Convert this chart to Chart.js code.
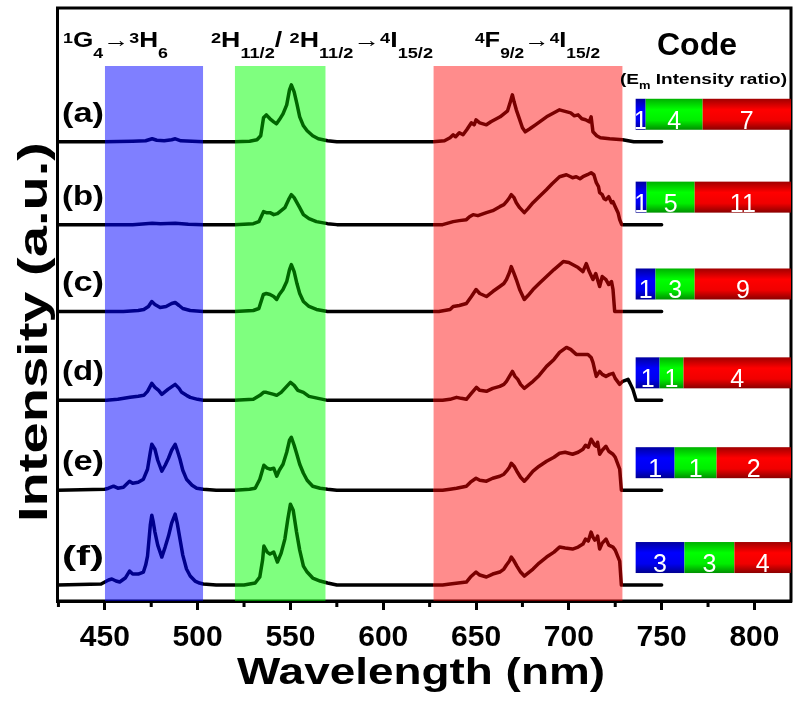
<!DOCTYPE html>
<html>
<head>
<meta charset="utf-8">
<title>Emission spectra</title>
<script src="https://cdn.jsdelivr.net/npm/chart.js@4.4.1/dist/chart.umd.min.js"></script>
<style>
  html, body { margin: 0; padding: 0; background: #fff; }
</style>
</head>
<body>
<canvas id="chart" width="800" height="704"></canvas>
<script>
// sample names and vertical offsets of each trace (a.u.)
const sampleLabels = ['(a)', '(b)', '(c)', '(d)', '(e)', '(f)'];
const baseOffsets = [460, 377, 290, 201, 111, 16];

// spectra as [wavelength nm, intensity above own baseline]
const specA = [[424.5,0],[450,0],[465,0.5],[472,1],[475.5,3],[478,1.5],[482,1],[486,2],[488,3],[491,1],[497,0.5],[503,0],
  [520,0],[528,0.5],[532,2],[534,6],[535.5,24],[537,27],[539,23],[541,20],[542.5,18],[544,22],[546,28],[548,37],[549.5,52],[550.5,57],[552,50],[553.5,38],[555,25],[557,16],[559,11],[562,6],[565,3],[570,1],[575,0],
  [627,0],[633,1],[636,4],[637.7,7],[639,5],[641,9],[643,7],[645,12],[647.5,19],[649,17],[650,22],[652,19],[655.6,17],[658,20],[661,23],[663,25],[665,28],[667,31],[668.5,40],[669.6,47],[670.5,40],[671.7,32],[673,25],[675,14],[676.5,10],[679,13],[682,17],[685,21],[688,25],[690,27],[693,30],[695,32],[697,31],[699,30],[701,29],[703,26],[705,27],[707,23],[709,22],[711,20],[712,25],[713,10],[715,6],[717,4],[722,3],[729,2],[735,0],[750,0]];
const specB = [[424.5,0],[465,0],[475.5,1.5],[480,0.8],[488,1.5],[495,0.5],[503,0],[520,0],[530,1],[533,3],[535.5,13],[537,12],[539,12],[541,10],[543,11],[545,14],[547,17],[549,25],[550.5,30],[552,27],[553.5,22],[555,17],[557,10],[560,6],[564,3],[570,1],[575,0],
  [632,0],[637.7,3],[641,4],[644.8,5],[646.5,8],[648.4,10],[651,9],[655.6,12],[659,14],[662.8,18],[665,20],[666.4,23],[668,27],[669,30],[670.5,27],[671.7,22],[673.5,17],[676,12],[678,16],[680.7,22],[684,28],[687.9,35],[691,41],[695,48],[698.7,50],[701,48],[702,47],[704,48],[706,46],[707.6,48],[710,50],[712,52],[713.5,50],[714.8,42],[716,38],[716.6,32],[718,30],[719,26],[720,25],[721.5,28],[723,22],[723.8,23],[725,18],[726.5,12],[727.4,5],[728.5,0],[750,0]];
const specC = [[424.5,0],[460,0],[468,1],[471,2],[473.5,5],[475.3,10],[477,7],[479.8,4],[483,5],[486,8],[487.9,9],[490,6],[492,3],[496,1],[503,0],[520,0],[530,1],[533,3],[535.4,17],[537,18],[539,17],[541,15],[542.6,12],[544,17],[546,22],[548,30],[549.5,42],[550.5,47],[552,40],[553.5,28],[555,18],[557,10],[560,5],[564,2],[570,0],
  [630,0],[636,2],[637.7,5],[641,6],[644.8,8],[647.5,15],[650,22],[652,18],[655.6,15],[659,20],[662.8,25],[665,28],[666.4,32],[668,39],[669,45],[670.5,38],[671.7,32],[673.5,22],[676,12],[678,16],[680.7,22],[684,28],[688,35],[692,42],[697,50],[700,49],[702,47],[705,44],[707.6,40],[709.4,48],[711,40],[713,32],[714.5,38],[716.6,25],[718,35],[720,32],[721.5,27],[723,30],[723.8,22],[724.7,0],[750,0]];
const specD = [[424.5,0],[451,0],[457,1],[463.6,3],[468,4],[471,5],[473,9],[475.3,17],[477,13],[479,10],[480.7,6],[484,11],[487.9,16],[490,12],[491.4,8],[494,5],[496,3],[500,1],[503,0],[520,0],[530,1],[533.6,5],[535.5,8],[537,8],[539,7],[541,6],[542.6,5],[545,8],[548,14],[550,18],[552,15],[554,10],[557,8],[560,4],[565,2],[570,0],
  [632,0],[636,1],[639.5,3],[642,2],[644.8,1],[647,6],[650.2,13],[652,10],[655.6,9],[659,12],[662.8,14],[665,16],[666.4,19],[668,24],[669.6,29],[671,24],[672.5,21],[674,16],[676,12],[678,15],[680.7,19],[684,25],[688,34],[692,41],[695,48],[698.7,53],[701,51],[704,46],[707,46],[710.3,46],[712,43],[713,38],[714,30],[714.8,24],[716.6,29],[718,26],[720,24],[722,26],[723.8,27],[725,22],[727.4,16],[729,19],[731.9,21],[733,17],[734.5,11],[736.3,0],[750,0]];
const specE = [[424.5,0],[450,1],[452,2],[454.7,4],[457,2],[460,3],[463.3,9],[465,7],[468,8],[470.8,11],[473,21],[474.5,38],[475.3,46],[477,41],[478.5,30],[480.7,19],[482.5,25],[484.3,32],[486,40],[487.9,46],[489,40],[490.5,31],[492,20],[494,11],[497,5],[499.5,2],[503,1],[510,0],[520,0],[528,1],[531,2],[533.5,11],[535.7,25],[537.5,22],[539,21],[541,22],[542.6,14],[544,20],[546,26],[548,38],[549.5,50],[550.5,53],[552,45],[553.3,37],[555,26],[557,17],[559,10],[562,4],[566,2],[570,1],[575,0],
  [632,0],[636,1],[639.5,2],[644.8,4],[647,8],[650,12],[652,10],[655.6,9],[659,12],[662.8,14],[665,16],[666.4,19],[668,23],[669,27],[670.5,24],[672,19],[674,13],[676,9],[678,13],[680.7,19],[684,24],[688,29],[692,33],[695,37],[698,38],[702,36],[705,38],[707.6,41],[709,45],[710.5,43],[712,51],[713,48],[714,45],[714.8,44],[715.5,48],[716.6,36],[718,40],[720,44],[721.5,39],[723.8,36],[725,33],[727.4,21],[728.3,0],[750,0]];
const specF = [[424.5,0],[448,1],[450,3],[452,5],[453.8,6],[456,4],[458,3],[461,7],[463.3,14],[465,11],[468,11],[470.8,13],[472,20],[473,29],[474.5,60],[475.3,70],[476,64],[477,53],[478.5,40],[480.7,28],[482.5,38],[484.3,49],[486,62],[487.9,71],[489,62],[490.5,46],[492,30],[494,16],[496,9],[498.6,4],[501,2],[503,1],[510,0],[525,0],[531,2],[533.5,8],[535,25],[535.7,39],[537.5,33],[539,31],[541,33],[543,23],[545,32],[547,46],[548.5,65],[550,81],[551.5,75],[553.3,53],[555,35],[557,19],[559,13],[562,7],[566,4],[570,2],[575,0],
  [632,0],[636,1],[644.8,3],[647,8],[650,13],[652,10],[655.6,8],[659,11],[662.8,13],[665,16],[666.4,20],[668,24],[669,28],[670.5,24],[672,19],[674,13],[676,9],[678,12],[680.7,16],[684,22],[688,28],[692,33],[695,38],[698,37],[702,36],[705,38],[707.6,41],[709,46],[710.5,44],[712,53],[713,48],[714,45],[714.8,46],[715.5,49],[716.6,36],[718,42],[720,46],[721.5,40],[723.8,38],[725,35],[727.4,24],[728.3,0],[750,0]];
const spectra = [specA, specB, specC, specD, specE, specF];

// emission bands (nm) and their upper edge (a.u.)
const bandBlue = [450, 503];
const bandGreen = [520, 569];
const bandRed = [627, 729];
const bandTop = 536;

// code bars: blue:green:red ratios and where each colour ends (nm)
const codeRatios = [[1, 4, 7], [1, 5, 11], [1, 3, 9], [1, 1, 4], [1, 1, 2], [3, 3, 4]];
const codeSplits = [[741.4, 772.1], [741.9, 767.8], [746.7, 767.8], [748.9, 761.8], [757, 779.6], [762.3, 789.2]];
const codeStart = 736;

const majorTicks = [450, 500, 550, 600, 650, 700, 750, 800];
const minorTicks = [425, 475, 525, 575, 625, 675, 725, 775];

const X_MIN = 424.5, X_MAX = 819.7;
const FONT = '"Liberation Sans", Arial, Helvetica, sans-serif';

// trace colour changes inside each band: built as a hard-stop gradient along x
let traceGradient = null;
let traceKey = '';
function traceColour(c) {
    const chart = c.chart;
    const a = chart.chartArea;
    const xs = chart.scales.x;
    if (!a || !xs) return '#000';
    const key = a.left + ':' + a.right;
    if (traceGradient && key === traceKey) return traceGradient;
    const g = chart.ctx.createLinearGradient(a.left, 0, a.right, 0);
    const f = v => (v - X_MIN) / (X_MAX - X_MIN);
    g.addColorStop(0, '#000');
    [[bandBlue, '#00008c'], [bandGreen, '#006600'], [bandRed, '#7a0000']].forEach(([b, col]) => {
        g.addColorStop(f(b[0]), '#000');
        g.addColorStop(f(b[0]), col);
        g.addColorStop(f(b[1]), col);
        g.addColorStop(f(b[1]), '#000');
    });
    g.addColorStop(1, '#000');
    traceGradient = g;
    traceKey = key;
    return g;
}

// text with super/subscripts, squeezed/stretched to a given width
function drawRich(ctx, parts, x, y, size, width, opt) {
    opt = opt || {};
    const small = size * (opt.small || 0.68);
    const weight = opt.weight || 'bold';
    const fontFor = k => `${weight} ${k === 0 ? size : small}px ${FONT}`;
    let total = 0;
    const widths = parts.map(([t, k]) => {
        ctx.font = fontFor(k);
        const w = ctx.measureText(t).width;
        total += w;
        return w;
    });
    const sx = width ? width / total : 1;
    ctx.save();
    ctx.translate(x, y);
    ctx.scale(sx, 1);
    ctx.textAlign = 'left';
    ctx.textBaseline = 'alphabetic';
    ctx.fillStyle = opt.color || '#000';
    let cx = 0;
    parts.forEach(([t, k], i) => {
        ctx.font = fontFor(k);
        const dy = k > 0 ? -size * (opt.up || 0.2) : (k < 0 ? size * (opt.down || 0.5) : 0);
        ctx.fillText(t, cx, dy);
        cx += widths[i];
    });
    ctx.restore();
}

const framePlugin = {
    id: 'frame',
    beforeDatasetsDraw(chart) {
        const { ctx, chartArea: a } = chart;
        ctx.save();
        ctx.strokeStyle = '#000';
        ctx.lineWidth = 3;
        ctx.strokeRect(a.left, a.top, a.right - a.left, a.bottom - a.top);
        // minor ticks
        const xs = chart.scales.x;
        ctx.beginPath();
        minorTicks.forEach(v => {
            const px = xs.getPixelForValue(v);
            ctx.moveTo(px, a.bottom);
            ctx.lineTo(px, a.bottom + 6);
        });
        ctx.stroke();
        ctx.restore();
    }
};

const codePlugin = {
    id: 'codeBars',
    afterDatasetsDraw(chart) {
        const { ctx } = chart;
        const xs = chart.scales.x, ys = chart.scales.y;
        const shades = [
            ['#0000a0', '#0000ff', '#0000f0', '#000090'],
            ['#00b000', '#00ff00', '#00ee00', '#009000'],
            ['#a00000', '#ff0000', '#f00000', '#8a0000']
        ];
        ctx.save();
        codeRatios.forEach((ratio, i) => {
            const bottom = ys.getPixelForValue(baseOffsets[i]) - 12;
            const top = bottom - 31;
            const edges = [codeStart, codeSplits[i][0], codeSplits[i][1], X_MAX];
            for (let s = 0; s < 3; s++) {
                const x0 = xs.getPixelForValue(edges[s]);
                const x1 = xs.getPixelForValue(edges[s + 1]);
                const g = ctx.createLinearGradient(0, top, 0, bottom);
                g.addColorStop(0, shades[s][0]);
                g.addColorStop(0.35, shades[s][1]);
                g.addColorStop(0.7, shades[s][2]);
                g.addColorStop(1, shades[s][3]);
                ctx.fillStyle = g;
                ctx.fillRect(x0, top, x1 - x0, bottom - top);
                ctx.fillStyle = '#fff';
                ctx.font = `25px ${FONT}`;
                ctx.textAlign = 'center';
                ctx.textBaseline = 'alphabetic';
                ctx.fillText(String(ratio[s]), (x0 + x1) / 2, bottom - 1);
            }
        });
        ctx.restore();
    }
};

const textPlugin = {
    id: 'texts',
    afterDraw(chart) {
        const { ctx } = chart;
        const ys = chart.scales.y;
        sampleLabels.forEach((lab, i) => {
            const py = ys.getPixelForValue(baseOffsets[i]);
            drawRich(ctx, [[lab, 0]], 62, py - 20, 27, 42);
        });
        drawRich(ctx, [['1', 1], ['G', 0], ['4', -1], ['\u2192', 0], ['3', 1], ['H', 0], ['6', -1]], 63, 47, 22, 105);
        drawRich(ctx, [['2', 1], ['H', 0], ['11/2', -1], ['/ ', 0], ['2', 1], ['H', 0], ['11/2', -1], ['\u2192', 0], ['4', 1], ['I', 0], ['15/2', -1]], 211, 47, 22, 222);
        drawRich(ctx, [['4', 1], ['F', 0], ['9/2', -1], ['\u2192', 0], ['4', 1], ['I', 0], ['15/2', -1]], 475, 47, 22, 125);
        drawRich(ctx, [['Code', 0]], 657, 55, 32, 80);
        drawRich(ctx, [['(E', 0], ['m', -1], [' Intensity ratio)', 0]], 620, 84, 15, 167, { down: 0.3 });
        drawRich(ctx, [['Wavelength (nm)', 0]], 237, 684, 37, 368);
        ctx.save();
        ctx.translate(47, 332);
        ctx.rotate(-Math.PI / 2);
        drawRich(ctx, [['Intensity (a.u.)', 0]], -190, 0, 40, 380);
        ctx.restore();
    }
};

const spectrumSets = spectra.map((spec, i) => ({
    label: sampleLabels[i],
    data: spec.map(([x, h]) => ({ x, y: baseOffsets[i] + h })),
    borderColor: traceColour,
    borderWidth: 3.5,
    borderJoinStyle: 'round',
    borderCapStyle: 'round',
    pointRadius: 0,
    tension: 0,
    fill: false,
    order: 0
}));

const bandSets = [
    [bandBlue, 'rgba(0, 0, 255, 0.5)'],
    [bandGreen, 'rgba(0, 255, 0, 0.5)'],
    [bandRed, 'rgba(255, 0, 0, 0.45)']
].map(([b, col]) => ({
    label: 'band',
    data: [{ x: b[0], y: bandTop }, { x: b[1], y: bandTop }],
    borderWidth: 0,
    pointRadius: 0,
    backgroundColor: col,
    fill: 'origin',
    order: 5
}));

new Chart(document.getElementById('chart'), {
    type: 'line',
    data: { datasets: spectrumSets.concat(bandSets) },
    options: {
        responsive: false,
        animation: false,
        layout: { padding: { left: 57.5, right: 9, top: 8, bottom: 38 } },
        plugins: {
            legend: { display: false },
            tooltip: { enabled: false }
        },
        scales: {
            x: {
                type: 'linear',
                min: X_MIN,
                max: X_MAX,
                afterBuildTicks: s => { s.ticks = majorTicks.map(v => ({ value: v })); },
                ticks: {
                    color: '#000',
                    font: { family: FONT, size: 30, weight: 'bold' },
                    padding: 10,
                    autoSkip: false,
                    maxRotation: 0,
                    callback: v => String(v)
                },
                grid: {
                    drawOnChartArea: false,
                    drawTicks: true,
                    tickLength: 9,
                    tickWidth: 3,
                    tickColor: '#000'
                },
                border: { display: true, color: '#000', width: 3 }
            },
            y: {
                type: 'linear',
                min: 0,
                max: 594,
                display: false
            }
        }
    },
    plugins: [framePlugin, codePlugin, textPlugin]
});
</script>
</body>
</html>
